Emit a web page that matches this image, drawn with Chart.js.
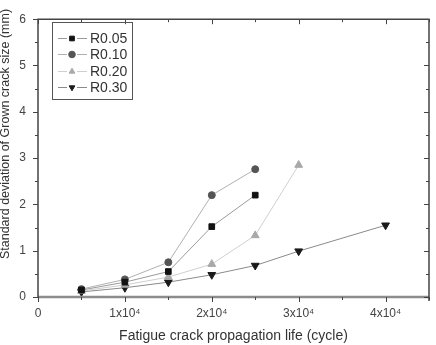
<!DOCTYPE html>
<html><head><meta charset="utf-8">
<script src="https://cdn.jsdelivr.net/npm/chart.js@4.4.1/dist/chart.umd.min.js"></script>
<style>html,body{margin:0;padding:0;background:#fff}#wrap{width:436px;height:345px;position:relative}</style>
</head><body><div id="wrap"><canvas id="c" width="436" height="345"></canvas></div>
<script>
const cycles = [5000, 10000, 15000, 20000, 25000, 30000, 40000];
const seriesNames = ['R0.05', 'R0.10', 'R0.20', 'R0.30'];
const r005 = [0.15, 0.32, 0.55, 1.52, 2.20];
const r010 = [0.17, 0.38, 0.75, 2.20, 2.76];
const r020 = [0.13, 0.26, 0.43, 0.71, 1.33, 2.85];
const r030 = [0.11, 0.20, 0.32, 0.48, 0.68, 0.99, 1.55];
const xTickLabels = {0: '0', 10000: '1x10\u2074', 20000: '2x10\u2074', 30000: '3x10\u2074', 40000: '4x10\u2074'};
const yTickLabels = {0: '0', 1: '1', 2: '2', 3: '3', 4: '4', 5: '5', 6: '6'};
const xTitle = 'Fatigue crack propagation life (cycle)';
const yTitle = 'Standard deviation of Grown crack size (mm)';

const FONT = '"Liberation Sans", Arial, sans-serif';
const toPts = arr => arr.map((v, i) => ({x: cycles[i], y: v}));

const styles = [
  {line: '#9a9a9a', pt: '#111', style: 'rect', rot: 0, r: 4},
  {line: '#b0b0b0', pt: '#555', style: 'circle', rot: 0, r: 3.5},
  {line: '#cfcfcf', pt: '#a8a8a8', style: 'triangle', rot: 0, r: 4.5},
  {line: '#8a8a8a', pt: '#1a1a1a', style: 'triangle', rot: 180, r: 4.5}
];
const allSeries = [r005, r010, r020, r030];

const datasets = allSeries.map((s, i) => ({
  label: seriesNames[i],
  data: toPts(s),
  showLine: true,
  borderColor: styles[i].line,
  borderWidth: 1,
  pointStyle: styles[i].style,
  rotation: styles[i].rot,
  pointRadius: styles[i].r,
  pointBackgroundColor: styles[i].pt,
  pointBorderColor: styles[i].pt,
  pointBorderWidth: 1
}));

const framePlugin = {
  id: 'frame',
  afterDraw(chart) {
    const ctx = chart.ctx, a = chart.chartArea;
    const xs = chart.scales.x, ys = chart.scales.y;
    ctx.save();
    // x axis thick gray line
    ctx.strokeStyle = '#8c8c8c';
    ctx.lineWidth = 2.5;
    ctx.beginPath(); ctx.moveTo(a.left, a.bottom); ctx.lineTo(a.right, a.bottom); ctx.stroke();
    ctx.strokeStyle = '#444';
    ctx.lineWidth = 1.5;
    ctx.beginPath();
    ctx.moveTo(a.left, a.bottom); ctx.lineTo(a.left, a.top); ctx.lineTo(a.right, a.top); ctx.lineTo(a.right, a.bottom + 4);
    ctx.stroke();
    ctx.lineWidth = 1;
    for (let v = 0; v <= 45000; v += 5000) {
      const px = Math.round(xs.getPixelForValue(v)) + 0.5;
      const major = v % 10000 === 0;
      const L = major ? 5 : 3;
      ctx.beginPath();
      ctx.moveTo(px, a.bottom); ctx.lineTo(px, a.bottom + L);
      ctx.moveTo(px, a.top); ctx.lineTo(px, a.top + L);
      ctx.stroke();
    }
    for (let v = 0; v <= 6; v += 0.5) {
      const py = Math.round(ys.getPixelForValue(v)) + 0.5;
      const major = Number.isInteger(v);
      const L = major ? 5 : 3;
      ctx.beginPath();
      ctx.moveTo(a.left, py); ctx.lineTo(a.left - L, py);
      ctx.moveTo(a.right, py); ctx.lineTo(a.right - L, py);
      ctx.stroke();
    }
    // y title
    ctx.save();
    ctx.translate(6, 134);
    ctx.rotate(-Math.PI / 2);
    ctx.font = '12.5px ' + FONT;
    ctx.fillStyle = '#333';
    ctx.textAlign = 'center';
    ctx.textBaseline = 'middle';
    ctx.fillText(yTitle, 0, 0);
    ctx.restore();
    // legend
    const bx = 52, by = 22, bw = 80, bh = 77;
    ctx.strokeStyle = '#555';
    ctx.lineWidth = 1;
    ctx.strokeRect(bx + 0.5, by + 0.5, bw, bh);
    ctx.font = '14px ' + FONT;
    ctx.textBaseline = 'middle';
    ctx.textAlign = 'left';
    chart.data.datasets.forEach((ds, i) => {
      const yy = Math.round(38 + i * 16.3) + 0.5;
      ctx.strokeStyle = ds.borderColor;
      ctx.beginPath();
      ctx.moveTo(58, yy); ctx.lineTo(67, yy);
      ctx.moveTo(77, yy); ctx.lineTo(87, yy);
      ctx.stroke();
      ctx.fillStyle = ds.pointBackgroundColor;
      ctx.strokeStyle = ds.pointBorderColor;
      Chart.helpers.drawPoint(ctx, {pointStyle: ds.pointStyle, rotation: ds.rotation, radius: 3.3, borderWidth: 1}, 72, yy);
      ctx.fillStyle = '#333';
      ctx.fillText(ds.label, 90, yy + 1);
    });
    ctx.restore();
  }
};

new Chart(document.getElementById('c'), {
  type: 'scatter',
  data: {datasets},
  options: {
    responsive: false,
    animation: false,
    layout: {padding: {top: 10, right: 7, left: 0, bottom: 0}},
    plugins: {legend: {display: false}, tooltip: {enabled: false}},
    scales: {
      x: {
        type: 'linear', min: 0, max: 45000,
        afterBuildTicks: s => { s.ticks = Object.keys(xTickLabels).map(k => ({value: +k})); },
        afterFit: s => { s.height = 48; },
        grid: {display: false, drawTicks: false},
        border: {display: false},
        ticks: {
          autoSkip: false, maxRotation: 0, padding: 9,
          color: '#444', font: {family: FONT, size: 12},
          callback: v => xTickLabels[v] ?? ''
        },
        title: {display: true, text: xTitle, color: '#333',
          font: {family: FONT, size: 14}, padding: {top: 6, bottom: 0}}
      },
      y: {
        type: 'linear', min: 0, max: 6,
        afterBuildTicks: s => { s.ticks = Object.keys(yTickLabels).map(k => ({value: +k})); },
        afterFit: s => { s.width = 38; },
        grid: {display: false, drawTicks: false},
        border: {display: false},
        ticks: {
          padding: 12, color: '#444', font: {family: FONT, size: 12},
          callback: v => yTickLabels[v] ?? ''
        }
      }
    }
  },
  plugins: [framePlugin]
});
</script></body></html>
